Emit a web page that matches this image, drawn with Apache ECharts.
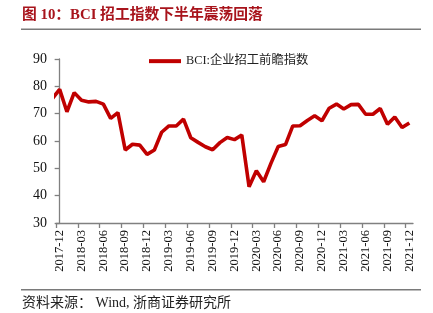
<!DOCTYPE html>
<html><head><meta charset="utf-8">
<script src="https://cdn.jsdelivr.net/npm/echarts@6/dist/echarts.min.js"></script>
<style>html,body{margin:0;padding:0;background:#fff}#c{width:433px;height:313px}</style>
</head><body><div id="c"></div>
<script>
// ---- data ----
const months = ['2017-12','2018-01','2018-02','2018-03','2018-04','2018-05','2018-06','2018-07','2018-08','2018-09','2018-10','2018-11',
  '2018-12','2019-01','2019-02','2019-03','2019-04','2019-05','2019-06','2019-07','2019-08','2019-09','2019-10','2019-11',
  '2019-12','2020-01','2020-02','2020-03','2020-04','2020-05','2020-06','2020-07','2020-08','2020-09','2020-10','2020-11',
  '2020-12','2021-01','2021-02','2021-03','2021-04','2021-05','2021-06','2021-07','2021-08','2021-09','2021-10','2021-11','2021-12'];
const bciValues = [78.9,70.7,77.7,74.9,74.3,74.5,73.5,68.3,70.4,56.7,58.8,58.5,
  55.1,56.7,63.2,65.5,65.5,68.0,61.2,59.5,57.9,56.8,59.4,61.3,
  60.5,62.2,43.3,49.1,45.1,51.8,58.0,58.7,65.5,65.6,67.5,69.2,
  67.4,72.0,73.5,71.7,73.3,73.4,69.8,69.8,71.9,66.1,68.8,64.9,66.6];
const priorMonth = '2017-11';   // partly visible, clipped at the axis
const priorValue = 75.5;
const seriesName = 'BCI:企业招工前瞻指数';
const titleText = '图 10：BCI 招工指数下半年震荡回落';
const sourceText = '资料来源： Wind, 浙商证券研究所';
const yMin = 30, yMax = 90, yStep = 10;
const labelEvery = 3;

// ---- chart ----
const serif = "'Liberation Serif','Times New Roman','Noto Sans CJK SC',serif";
const labelIdx = months.map((m, i) => i).filter(i => i % labelEvery === 0);
const tickPos = labelIdx.map(i => i - 0.5);
const data = [[-1, priorValue]].concat(bciValues.map((v, i) => [i, v]));

const chart = echarts.init(document.getElementById('c'), null, {renderer: 'canvas'});
chart.setOption({
  animation: false,
  backgroundColor: '#fff',
  grid: {left: 56, right: 20, top: 59, bottom: 90, containLabel: false},
  legend: {
    data: [seriesName], left: 144, top: 50, icon: 'rect', itemWidth: 32, itemHeight: 4,
    textStyle: {fontFamily: serif, fontSize: 12.3, color: '#222'}
  },
  xAxis: {
    type: 'value', min: -0.5, max: months.length - 0.5,
    splitLine: {show: false},
    axisLine: {show: true, lineStyle: {color: '#808080', width: 1.3}},
    axisTick: {show: true, customValues: tickPos, length: 5, lineStyle: {color: '#808080', width: 1.3}},
    axisLabel: {customValues: labelIdx, rotate: 90, margin: 7, fontFamily: serif, fontSize: 12.5, color: '#111',
      formatter: v => months[Math.round(v)] || ''}
  },
  yAxis: {
    type: 'value', min: yMin, max: yMax, interval: yStep,
    splitLine: {show: false},
    axisLine: {show: true, lineStyle: {color: '#808080', width: 1.3}},
    axisTick: {show: true, length: 5, lineStyle: {color: '#808080', width: 1.3}},
    axisLabel: {margin: 9, fontFamily: serif, fontSize: 14, color: '#111'}
  },
  series: [{
    name: seriesName, type: 'line', data: data, symbol: 'none', clip: true,
    lineStyle: {color: '#c00000', width: 3.6}, itemStyle: {color: '#c00000'}
  }],
  graphic: [
    {type: 'text', left: 22, top: 8, style: {text: titleText, fill: '#a8141c', font: "bold 14.8px " + serif}},
    {type: 'rect', shape: {x: 21, y: 28.5, width: 400, height: 1.5}, style: {fill: '#7a7a7a'}},
    {type: 'rect', shape: {x: 21, y: 289, width: 400, height: 1.5}, style: {fill: '#7a7a7a'}},
    {type: 'text', left: 22, top: 296, style: {text: sourceText, fill: '#222', font: "14px " + serif}}
  ]
});
</script></body></html>
